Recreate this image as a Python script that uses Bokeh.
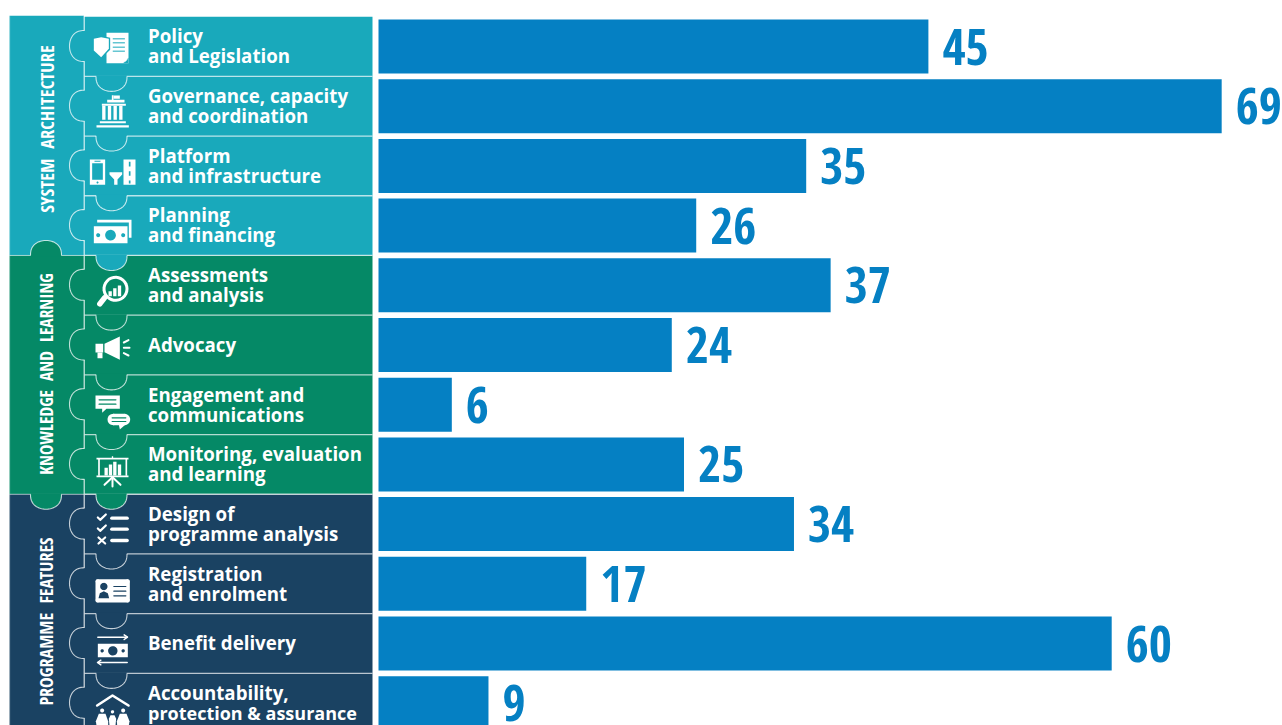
import numpy as np
from bokeh.plotting import figure
from bokeh.models import Range1d
from bokeh.core.properties import value
from bokeh.embed import file_html
from bokeh.resources import INLINE

categories = ["Policy\nand Legislation", "Governance, capacity\nand coordination",
              "Platform\nand infrastructure", "Planning\nand financing",
              "Assessments\nand analysis", "Advocacy",
              "Engagement and\ncommunications", "Monitoring, evaluation\nand learning",
              "Design of\nprogramme analysis", "Registration\nand enrolment",
              "Benefit delivery", "Accountability,\nprotection & assurance"]
values = [45, 69, 35, 26, 37, 24, 6, 25, 34, 17, 60, 9]
groups = ["SYSTEM  ARCHITECTURE", "KNOWLEDGE  AND  LEARNING", "PROGRAMME  FEATURES"]
group_rows = [(0, 3), (4, 7), (8, 11)]
group_colors = ["#19A9BB", "#058966", "#1A4262"]
group_label_y = [128.5, 373.5, 621]
group_label_size = ["18.5px", "17.4px", "18px"]

BAR = "#0580C3"
PALE = "#FFFFFF"
W, H = 1282, 725
PX_PER_UNIT, X0 = 12.22, 378
ROW0, STEP = 46.0, 59.7

p = figure(width=W, height=H, output_backend="svg", toolbar_location=None,
           x_range=Range1d((0 - X0) / PX_PER_UNIT, (W - X0) / PX_PER_UNIT),
           y_range=Range1d((H - ROW0) / STEP, (0 - ROW0) / STEP),
           x_axis_location=None, y_axis_location=None, min_border=0,
           outline_line_color=None, background_fill_color="white", border_fill_color="white")
p.grid.visible = False
p.extra_x_ranges["px"] = Range1d(0, W)
p.extra_y_ranges["px"] = Range1d(H, 0)
PXK = dict(x_range_name="px", y_range_name="px")

def row_color(i):
    for (a, b), c in zip(group_rows, group_colors):
        if a <= i <= b:
            return c

def top(i):
    return ROW0 + STEP * (i - 0.5)

# bars and value labels
rows = list(range(len(values)))
p.hbar(y=rows, left=0, right=values, height=54 / STEP, color=BAR, line_color=None)
p.text(x=values, y=rows, text=[str(v) for v in values], x_offset=14, y_offset=0, text_color=BAR,
       text_font=value("Open Sans Condensed"), text_font_style="bold",
       text_font_size="50px", text_baseline="middle", text_align="left")

# panels
for (a, b), c in zip(group_rows, group_colors):
    p.quad(left=9, right=83.5, top=top(a) - (1 if a == 0 else 0), bottom=top(b + 1),
           fill_color=c, line_color=None, **PXK)
    p.quad(left=84, right=372, top=top(a), bottom=top(b + 1), fill_color=c, line_color=None, **PXK)
p.line([83.5, 83.5], [15, 725], line_color=PALE, line_alpha=0.65, line_width=1, **PXK)
p.line([9.3, 9.3], [15, 725], line_color=PALE, line_alpha=0.2, line_width=1, **PXK)
p.line([9, 83.5], [top(4), top(4)], line_color=PALE, line_alpha=0.5, line_width=1, **PXK)
p.line([9, 83.5], [top(8), top(8)], line_color=PALE, line_alpha=0.5, line_width=1, **PXK)
for i in rows[1:]:
    p.line([84, 372], [top(i), top(i)], line_color=PALE, line_alpha=0.7, line_width=1.3, **PXK)

t = np.linspace(0, np.pi, 40)
def neck(t_):
    return np.sin(t_) ** 0.8

def knob_v(cy, color):
    xs = 84 - 15 * neck(t)
    ys = cy - 15.5 * np.cos(t)
    p.patch(np.r_[84.5, xs, 84.5], np.r_[cy - 15, ys, cy + 15], fill_color=color, line_color=None, **PXK)
    p.line(xs, ys, line_color=PALE, line_alpha=0.75, line_width=1.1, **PXK)

def knob_h(cx, y, color, sign=1):
    xs = cx - 15.5 * np.cos(t)
    ys = y + sign * 15 * neck(t)
    p.patch(np.r_[cx - 15, xs, cx + 15], np.r_[y - sign, ys, y - sign], fill_color=color, line_color=None, **PXK)
    p.line(xs, ys, line_color=PALE, line_alpha=0.75, line_width=1.1, **PXK)

for i in rows:
    knob_v(ROW0 + STEP * i - 0.5, row_color(i))
    if i > 0:
        knob_h(111, top(i), row_color(i - 1))
knob_h(45.5, top(4), group_colors[1], sign=-1)
knob_h(45.5, top(8), group_colors[1])

# row labels
tx, ty, tt, ts = [], [], [], []
for i, c in enumerate(categories):
    lines = c.split("\n")
    for j, s in enumerate(lines):
        tx.append(147.5)
        ty.append(ROW0 + STEP * i - 0.7 + (j - (len(lines) - 1) / 2) * 20)
        tt.append(s)
        ts.append("18px" if "&" in s else "18.7px")
p.text(x=tx, y=ty, text=tt, text_color="white", text_font=value("Open Sans"), text_font_style="bold",
       text_font_size=ts, text_baseline="middle", text_align="left", **PXK)

# group labels
for g, y, s in zip(groups, group_label_y, group_label_size):
    p.text(x=[45.5], y=[y], text=[g.replace("  ", "\u00a0\u00a0")], angle=np.pi / 2, text_color="white",
           text_font=value("Open Sans Condensed"), text_font_style="bold", text_font_size=s,
           text_align="center", text_baseline="middle", **PXK)

# icon primitives, written in 3x crop coordinates with a vertical origin
class Ic:
    def __init__(self, oy, bg):
        self.oy, self.bg = oy, bg
    def X(self, x):
        return np.asarray(x, float) / 3
    def Y(self, y):
        return self.oy + np.asarray(y, float) / 3
    def r(self, x0, y0, x1, y1, c="white"):
        p.quad(left=x0 / 3, right=x1 / 3, top=self.Y(y0), bottom=self.Y(y1),
               fill_color=self.bg if c == "bg" else c, line_color=None, **PXK)
    def g(self, pts, c="white"):
        a = np.array(pts, float)
        p.patch(self.X(a[:, 0]), self.Y(a[:, 1]), fill_color=self.bg if c == "bg" else c, line_color=None, **PXK)
    def c(self, x, y, rad, c="white"):
        th = np.linspace(0, 2 * np.pi, 30)
        p.patch(self.X(x + rad * np.cos(th)), self.Y(y + rad * np.sin(th)),
                fill_color=self.bg if c == "bg" else c, line_color=None, **PXK)
    def l(self, pts, w=1.5, c="white"):
        a = np.array(pts, float)
        p.line(self.X(a[:, 0]), self.Y(a[:, 1]), line_color=self.bg if c == "bg" else c,
               line_width=w, line_cap="round", line_join="round", **PXK)

T, Gn, Nv = group_colors
# policy
i = Ic(0, T)
i.r(318, 97, 384, 188)
i.g([(276, 112), (302, 106), (329, 112), (329, 148), (302, 174), (276, 152)], "bg")
i.g([(280, 115), (302, 110), (325, 115), (325, 145), (302, 170), (280, 150)])
for y in (115, 127, 140, 152):
    i.l([(338, y), (372, y)], 1.0, "bg")
i.g([(368, 188), (384, 172), (384, 188)], "bg")
i.g([(372, 186), (372, 176), (382, 176)])
# governance
i = Ic(0, T)
i.r(334, 284, 339, 300)
i.r(339, 285, 358, 295)
i.r(320, 298, 372, 306)
i.r(304, 310, 376, 316)
for x in (305, 322, 339, 356):
    i.r(x, 316, x + 10, 358)
i.r(298, 362, 376, 368)
i.r(288, 374, 385, 381)
# platform
i = Ic(0, T)
i.r(268, 477, 314, 553)
i.r(275, 488, 307, 538, "bg")
i.c(291, 546, 3, "bg")
i.r(282, 481, 300, 484, "bg")
i.g([(327, 515), (365, 515), (365, 522), (351, 537), (351, 553), (341, 553), (341, 537), (327, 522)])
i.r(369, 477, 405, 553)
for y in (484, 512, 540):
    i.r(385, y, 390, y + 14 if y < 540 else y + 9, "bg")
# financing
i = Ic(0, T)
i.g([(290, 666), (290, 658), (393, 658), (393, 712), (385, 712), (385, 666)])
i.r(280, 677, 381, 728)
i.c(330, 704, 16, "bg")
i.c(293, 704, 6, "bg")
i.c(368, 704, 6, "bg")
# assessments
i = Ic(240, Gn)
i.c(345, 145, 39)
i.c(345, 145, 30, "bg")
for x, y0 in ((324, 152), (338, 143), (352, 135)):
    i.r(x, y0, x + 10, 167)
i.l([(312, 172), (298, 190)], 5.5)
# advocacy
i = Ic(240, Gn)
i.g([(312, 310), (358, 288), (358, 358), (312, 335)])
i.r(285, 310, 308, 336)
i.r(291, 336, 306, 353)
i.l([(370, 306), (384, 299)], 2)
i.l([(370, 322), (387, 322)], 2)
i.l([(370, 338), (384, 345)], 2)
# engagement
i = Ic(240, Gn)
i.g([(285, 465), (358, 465), (358, 505), (318, 505), (305, 517), (305, 505), (285, 505)])
for y in (478, 491):
    i.l([(296, y), (346, y)], 1.4, "bg")
i.c(338, 537, 17)
i.c(372, 537, 17)
i.r(338, 520, 372, 554)
i.g([(355, 552), (375, 552), (358, 567)])
for y in (532, 543):
    i.l([(335, y), (376, y)], 1.2, "bg")
# monitoring
i = Ic(240, Gn)
i.r(288, 652, 384, 657)
i.r(288, 705, 384, 710)
i.r(293, 655, 298, 706)
i.r(375, 655, 380, 706)
i.r(334, 647, 338, 654)
for x, y0 in ((312, 682), (325, 672), (338, 664), (352, 672)):
    i.r(x, y0, x + 10, 705)
i.l([(336, 710), (312, 733)], 2)
i.l([(336, 710), (336, 738)], 2)
i.l([(336, 710), (360, 733)], 2)
# design
i = Ic(480, Nv)
for y in (113, 146):
    i.l([(292, y - 2), (299, y + 5), (316, y - 11)], 2.2)
i.l([(294, 171), (314, 189)], 2.2)
i.l([(314, 171), (294, 189)], 2.2)
for y in (113, 146, 180):
    i.l([(334, y), (380, y)], 3.4)
# registration
i = Ic(480, Nv)
i.r(285, 302, 388, 360)
i.r(291, 296, 382, 366)
i.c(291, 302, 6); i.c(382, 302, 6); i.c(291, 360, 6); i.c(382, 360, 6)
i.c(310, 318, 11, "bg")
i.g([(294, 353), (298, 338), (310, 332), (322, 338), (326, 353)], "bg")
for y in (318, 332, 346):
    i.l([(340, y), (376, y)], 1.2, "bg")
# benefit
i = Ic(480, Nv)
i.l([(292, 470), (380, 470)], 1.5)
i.l([(371, 463), (381, 470), (371, 477)], 1.5)
i.r(292, 490, 382, 530)
i.c(337, 511, 14, "bg")
i.c(305, 511, 5, "bg")
i.c(368, 511, 5, "bg")
i.l([(292, 546), (380, 546)], 1.5)
i.l([(301, 539), (291, 546), (301, 553)], 1.5)
# accountability
i = Ic(480, Nv)
i.l([(290, 675), (336, 645), (384, 675)], 2.6)
for x, y, rad in ((305, 690, 6), (336, 694, 5), (368, 690, 6)):
    i.c(x, y, rad)
i.g([(286, 722), (295, 700), (315, 700), (323, 722), (323, 735), (288, 735)])
i.g([(325, 715), (330, 704), (342, 704), (347, 715), (345, 735), (327, 735)])
i.g([(349, 722), (358, 700), (378, 700), (387, 722), (385, 735), (350, 735)])

open("out.html", "w").write(file_html(p, INLINE))
